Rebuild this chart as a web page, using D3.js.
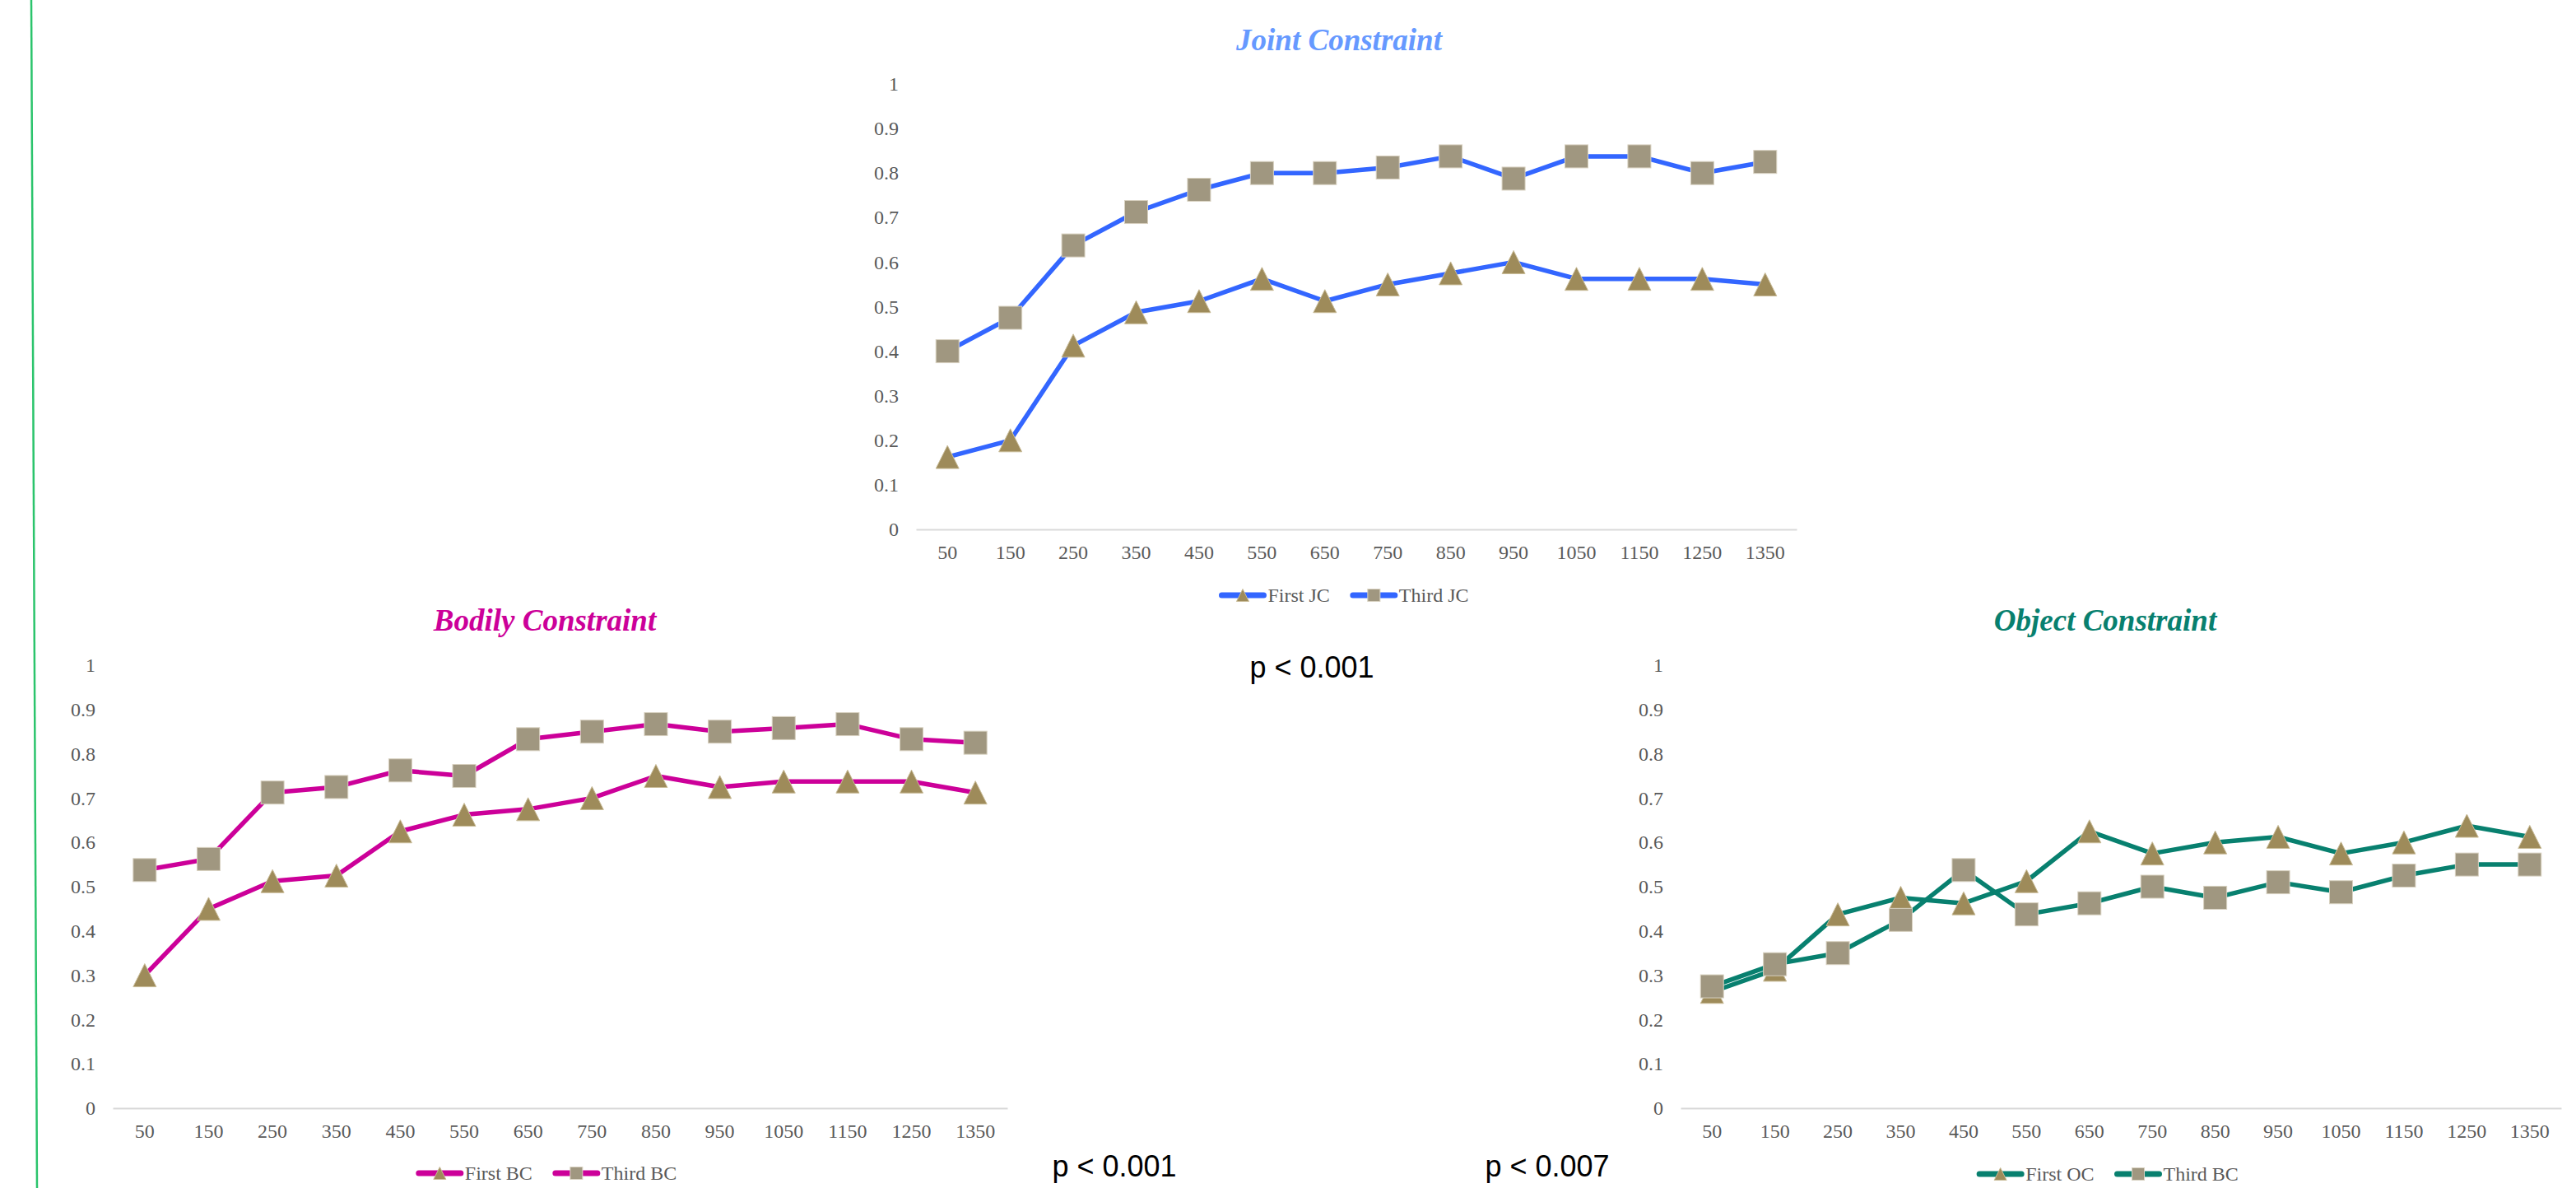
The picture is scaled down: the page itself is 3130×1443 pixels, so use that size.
<!DOCTYPE html>
<html>
<head>
<meta charset="utf-8">
<script src="https://cdn.jsdelivr.net/npm/d3@7"></script>
<style>
  html, body { margin: 0; padding: 0; background: #fff; }
  svg { display: block; }
</style>
</head>
<body>
<svg id="chart" width="3130" height="1443"></svg>
<script>
// ---- data ----
const categories = ["50","150","250","350","450","550","650","750","850","950","1050","1150","1250","1350"];
const yTicks = [0,0.1,0.2,0.3,0.4,0.5,0.6,0.7,0.8,0.9,1];
const yTickLabels = ["0","0.1","0.2","0.3","0.4","0.5","0.6","0.7","0.8","0.9","1"];

const firstJC = [0.1625,0.2,0.4125,0.4875,0.5125,0.5625,0.5125,0.55,0.575,0.6,0.5625,0.5625,0.5625,0.55];
const thirdJC = [0.4,0.475,0.6375,0.7125,0.7625,0.8,0.8,0.8125,0.8375,0.7875,0.8375,0.8375,0.8,0.825];

const firstBC = [0.3,0.45,0.5125,0.525,0.625,0.6625,0.675,0.7,0.75,0.725,0.7375,0.7375,0.7375,0.7125];
const thirdBC = [0.5375,0.5625,0.7125,0.725,0.7625,0.75,0.833,0.85,0.867,0.85,0.858,0.867,0.833,0.825];

const firstOC = [0.2625,0.3125,0.4375,0.475,0.4625,0.5125,0.625,0.575,0.6,0.6125,0.575,0.6,0.6375,0.6125];
const thirdOC = [0.275,0.325,0.35,0.425,0.5375,0.4375,0.4625,0.5,0.475,0.51,0.4875,0.525,0.55,0.55];

const titles = ["Joint Constraint","Bodily Constraint","Object Constraint"];
const legendNames = [["First JC","Third JC"],["First BC","Third BC"],["First OC","Third BC"]];
const pValues = ["p < 0.001","p < 0.001","p < 0.007"];

// ---- layout / style ----
const svg = d3.select("#chart");
const triColor = "#9E8B5A", sqColor = "#A09780";
const triStroke = "#C9BC98", sqStroke = "#D8D1C0";
const labelColor = "#595959";

const charts = [
  {title: titles[0], legend: legendNames[0], series: [firstJC, thirdJC],
   line: "#3366FF", titleColor: "#6699FF",
   x0: 1113, x1: 2183, yBottom: 643, yTop: 102, titleX: 1627, titleY: 61, legX: 1633, legY: 723},
  {title: titles[1], legend: legendNames[1], series: [firstBC, thirdBC],
   line: "#CC0099", titleColor: "#CC0099",
   x0: 137, x1: 1224, yBottom: 1346, yTop: 808, titleX: 662, titleY: 766, legX: 664, legY: 1425},
  {title: titles[2], legend: legendNames[2], series: [firstOC, thirdOC],
   line: "#08806F", titleColor: "#08806F",
   x0: 2042, x1: 3112, yBottom: 1346, yTop: 808, titleX: 2558, titleY: 766, legX: 2561, legY: 1426}
];

// green vertical line at left
svg.append("line").attr("x1", 38).attr("y1", 0).attr("x2", 45).attr("y2", 1443)
  .attr("stroke", "#2BC46C").attr("stroke-width", 2.5);

const triPath = (s) => `M0,${-s/2} L${s/2},${s/2} L${-s/2},${s/2} Z`;

function marker(g, kind, size) {
  if (kind === 0) {
    g.append("path").attr("d", triPath(size)).attr("fill", triColor)
      .attr("stroke", triStroke).attr("stroke-width", 1);
  } else {
    g.append("rect").attr("x", -size/2).attr("y", -size/2).attr("width", size).attr("height", size)
      .attr("fill", sqColor).attr("stroke", sqStroke).attr("stroke-width", 1);
  }
}

charts.forEach(c => {
  const g = svg.append("g");
  const x = d3.scaleBand().domain(categories).range([c.x0, c.x1]).padding(0);
  const y = d3.scaleLinear().domain([0, 1]).range([c.yBottom, c.yTop]);
  const cx = d => x(d) + x.bandwidth() / 2;

  // title
  g.append("text").attr("x", c.titleX).attr("y", c.titleY).attr("text-anchor", "middle")
    .attr("font-family", "'Liberation Serif', 'Times New Roman', serif")
    .attr("font-size", 37).attr("font-weight", "bold").attr("font-style", "italic")
    .attr("fill", c.titleColor).text(c.title);

  // y axis labels
  const ya = g.append("g").attr("transform", `translate(${c.x0},0)`)
    .call(d3.axisLeft(y).tickValues(yTicks).tickFormat((d, i) => yTickLabels[i]).tickSize(0).tickPadding(21));
  ya.select(".domain").remove();
  ya.selectAll("text").attr("font-family", "'Liberation Serif', 'Times New Roman', serif")
    .attr("font-size", 24).attr("fill", labelColor);

  // x axis
  const xa = g.append("g").attr("transform", `translate(0,${c.yBottom})`)
    .call(d3.axisBottom(x).tickSize(0).tickSizeOuter(0).tickPadding(19));
  xa.select(".domain").attr("stroke", "#D9D9D9").attr("stroke-width", 2);
  xa.selectAll("text").attr("font-family", "'Liberation Serif', 'Times New Roman', serif")
    .attr("font-size", 24).attr("fill", labelColor);

  // lines and markers
  const lineGen = d3.line().x((d, i) => cx(categories[i])).y(d => y(d));
  c.series.forEach((vals, si) => {
    g.append("path").datum(vals).attr("d", lineGen).attr("fill", "none")
      .attr("stroke", c.line).attr("stroke-width", 5.5).attr("stroke-linejoin", "round");
  });
  c.series.forEach((vals, si) => {
    vals.forEach((v, i) => {
      const mg = g.append("g").attr("transform", `translate(${cx(categories[i])},${y(v)})`);
      marker(mg, si, 28);
    });
  });

  // legend
  const lg = g.append("g");
  let xpos = 0;
  c.legend.forEach((name, si) => {
    const item = lg.append("g").attr("transform", `translate(${xpos},0)`);
    item.append("line").attr("x1", 3).attr("x2", 54).attr("y1", 0).attr("y2", 0)
      .attr("stroke", c.line).attr("stroke-width", 7).attr("stroke-linecap", "round");
    const mg = item.append("g").attr("transform", "translate(28.5,0)");
    marker(mg, si, 15);
    const t = item.append("text").attr("x", 59).attr("y", 8)
      .attr("font-family", "'Liberation Serif', 'Times New Roman', serif")
      .attr("font-size", 24).attr("fill", labelColor).text(name);
    const w = t.node().getComputedTextLength();
    xpos += 59 + w + 25;
  });
  const totalW = xpos - 25;
  lg.attr("transform", `translate(${c.legX - totalW / 2},${c.legY})`);
});

// p-values
const pPos = [[1594, 823], [1354, 1429], [1880, 1429]];
pValues.forEach((p, i) => {
  svg.append("text").attr("x", pPos[i][0]).attr("y", pPos[i][1]).attr("text-anchor", "middle")
    .attr("font-family", "'Liberation Sans', Arial, sans-serif").attr("font-size", 36)
    .attr("fill", "#000").text(p);
});
</script>
</body>
</html>
